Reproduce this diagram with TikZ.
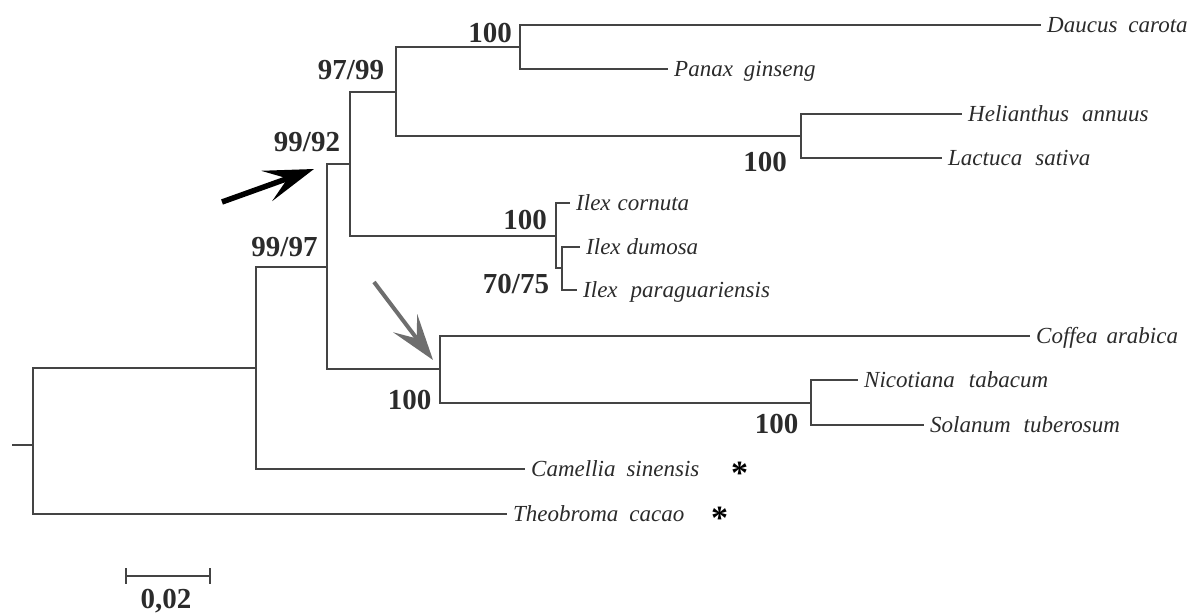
\documentclass[tikz,border=0pt]{standalone}
\usepackage{fontspec}
\setmainfont{Liberation Serif}
\usetikzlibrary{arrows.meta}
\definecolor{linec}{HTML}{444444}
\definecolor{txtc}{HTML}{2B2B2B}
\definecolor{grayarrow}{HTML}{6E6E6E}
\begin{document}
\begin{tikzpicture}[x=1pt,y=-1pt,
  br/.style={draw=linec, line width=2.2pt},
  sp/.style={font=\fontsize{23}{26}\selectfont\itshape, text=txtc, inner sep=0pt, anchor=base west},
  bs/.style={font=\fontsize{29}{32}\selectfont\bfseries, text=txtc, inner sep=0pt},
  ast/.style={font=\fontsize{34}{36}\selectfont\bfseries, text=black, inner sep=0pt, anchor=north},
  lab/.style={xshift=6pt, yshift=-7pt}
]
\useasboundingbox (0,0) rectangle (1195,613);

% internal nodes (x of vertical bar, y of incoming branch)
\coordinate (S) at (12,445);
\coordinate (R) at (33,445);
\coordinate (A) at (256,368);
\coordinate (B) at (327,267);
\coordinate (C) at (350,164);
\coordinate (E) at (396,92);
\coordinate (F) at (520,47);
\coordinate (G) at (801,136);
\coordinate (I) at (556,236);
\coordinate (J) at (562,268);
\coordinate (D) at (440,369);
\coordinate (K) at (811,403);

% tips
\coordinate (tDau) at (1041,25);
\coordinate (tPan) at (668,69);
\coordinate (tHel) at (962,114);
\coordinate (tLac) at (942,158);
\coordinate (tCor) at (570,203);
\coordinate (tDum) at (580,247);
\coordinate (tPar) at (577,290);
\coordinate (tCof) at (1030,336);
\coordinate (tNic) at (858,380);
\coordinate (tSol) at (924,425);
\coordinate (tCam) at (525,469);
\coordinate (tThe) at (507,514);

% branches
\draw[br] (S) -- (R);
\draw[br] (R) |- (A);
\draw[br] (R) |- (tThe);
\draw[br] (A) |- (B);
\draw[br] (A) |- (tCam);
\draw[br] (B) |- (C);
\draw[br] (B) |- (D);
\draw[br] (C) |- (E);
\draw[br] (C) |- (I);
\draw[br] (E) |- (F);
\draw[br] (E) |- (G);
\draw[br] (F) |- (tDau);
\draw[br] (F) |- (tPan);
\draw[br] (G) |- (tHel);
\draw[br] (G) |- (tLac);
\draw[br] (I) |- (tCor);
\draw[br] (I) |- (J);
\draw[br] (J) |- (tDum);
\draw[br] (J) |- (tPar);
\draw[br] (D) |- (tCof);
\draw[br] (D) |- (K);
\draw[br] (K) |- (tNic);
\draw[br] (K) |- (tSol);

% species labels
\node[sp] (Dau) at ([lab]tDau) {Daucus\hspace{11pt}carota};
\node[sp] (Pan) at ([lab]tPan) {Panax\hspace{11pt}ginseng};
\node[sp] (Hel) at ([lab]tHel) {Helianthus\hspace{13pt}annuus};
\node[sp] (Lac) at ([lab]tLac) {Lactuca\hspace{13pt}sativa};
\node[sp] (Cor) at ([lab]tCor) {Ilex\hspace{7pt}cornuta};
\node[sp] (Dum) at ([lab]tDum) {Ilex\hspace{6pt}dumosa};
\node[sp] (Par) at ([lab]tPar) {Ilex\hspace{13pt}paraguariensis};
\node[sp] (Cof) at ([lab]tCof) {Coffea\hspace{9pt}arabica};
\node[sp] (Nic) at ([lab]tNic) {Nicotiana\hspace{14pt}tabacum};
\node[sp] (Sol) at ([lab]tSol) {Solanum\hspace{13pt}tuberosum};
\node[sp] (Cam) at ([lab]tCam) {Camellia\hspace{11pt}sinensis};
\node[sp] (The) at ([lab]tThe) {Theobroma\hspace{11pt}cacao};

% asterisks
\node[ast] (astCam) at (739.5,462) {*};
\node[ast] (astThe) at (719.5,507) {*};

% support values
\node[bs] (sF) at (490,33) {100};
\node[bs] (sE) at (351,70) {97/99};
\node[bs] (sC) at (307,142) {99/92};
\node[bs] (sB) at (284.5,247) {99/97};
\node[bs] (sG) at (765,162) {100};
\node[bs] (sI) at (525,220) {100};
\node[bs] (sJ) at (516,284) {70/75};
\node[bs] (sD) at (409.5,399.5) {100};
\node[bs] (sK) at (776.5,424) {100};

% arrows
\coordinate (ak1) at (222,202);
\coordinate (ak2) at (314,169);
\draw[line width=5.5pt, black, -{Stealth[length=50pt,width=32pt,inset=22pt]}] (ak1) -- (ak2);
\coordinate (ag1) at (374,282);
\coordinate (ag2) at (433,360);
\draw[line width=4pt, grayarrow, -{Stealth[length=46pt,width=30pt,inset=19pt]}] (ag1) -- (ag2);

% scale bar
\coordinate (sb1) at (126,576);
\coordinate (sb2) at (210,576);
\draw[br, line width=2.5pt] (sb1) -- (sb2);
\draw[br] ([yshift=8pt]sb1) -- ([yshift=-8pt]sb1);
\draw[br] ([yshift=8pt]sb2) -- ([yshift=-8pt]sb2);
\node[bs, anchor=base] (sbl) at (166,608) {0,02};
\end{tikzpicture}
\end{document}
